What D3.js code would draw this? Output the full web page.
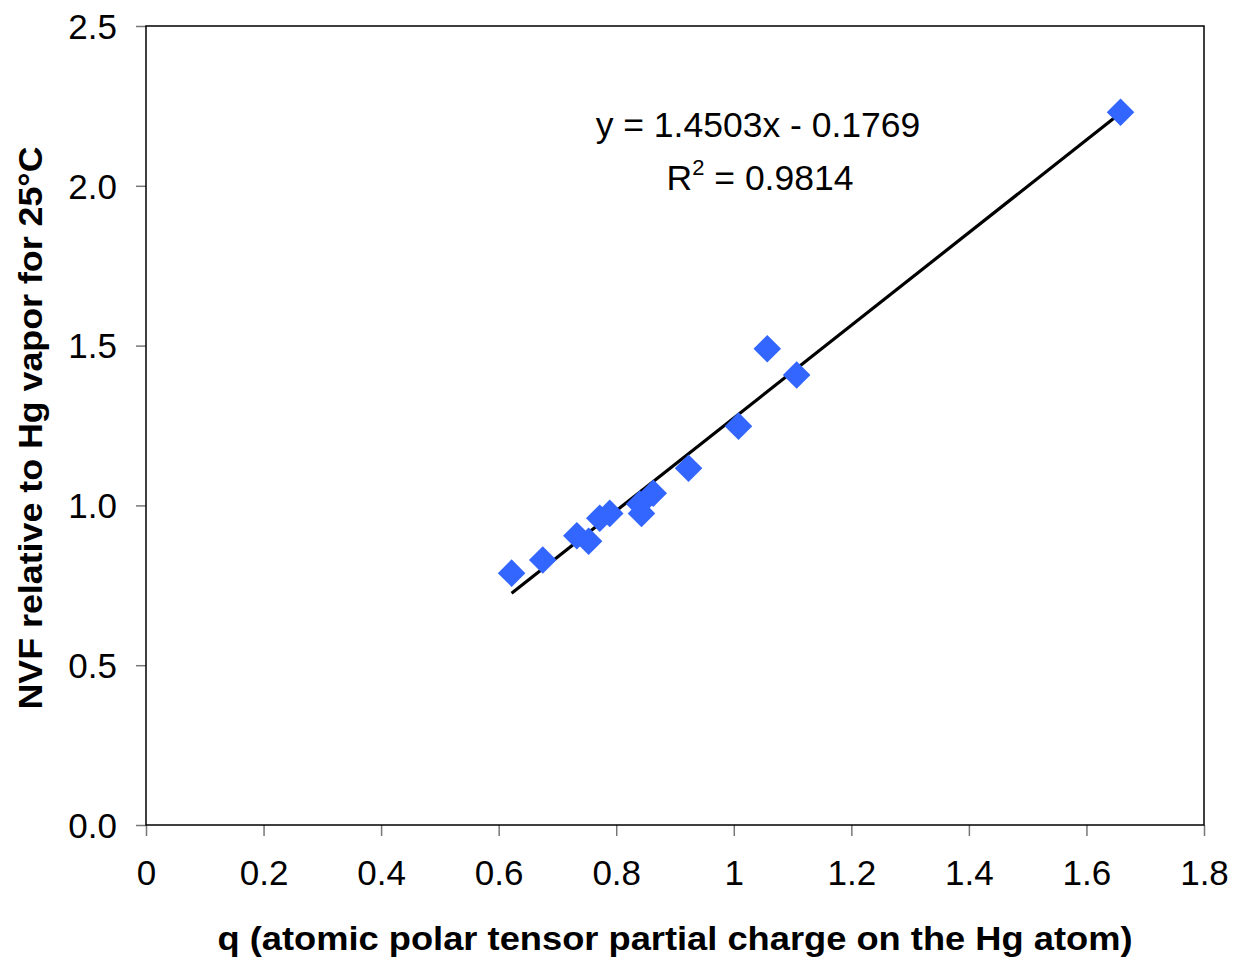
<!DOCTYPE html>
<html>
<head>
<meta charset="utf-8">
<script src="https://cdn.jsdelivr.net/npm/d3@7"></script>
<style>
  body { margin: 0; background: #fff; }
  text { font-family: "Liberation Sans", Arial, sans-serif; fill: #000; }
</style>
</head>
<body>
<div id="wrapper"></div>
<script>
// data
const qValues   = [0.622, 0.675, 0.733, 0.753, 0.772, 0.789, 0.840, 0.843, 0.863, 0.923, 1.008, 1.057, 1.107, 1.658]
const nvfValues = [0.788, 0.829, 0.905, 0.888, 0.960, 0.975, 1.004, 0.975, 1.038, 1.116, 1.248, 1.490, 1.408, 2.230]
const xTicks = [0, 0.2, 0.4, 0.6, 0.8, 1, 1.2, 1.4, 1.6, 1.8]
const xTickLabels = ['0', '0.2', '0.4', '0.6', '0.8', '1', '1.2', '1.4', '1.6', '1.8']
const yTicks = [0, 0.5, 1, 1.5, 2, 2.5]
const yTickLabels = ['0.0', '0.5', '1.0', '1.5', '2.0', '2.5']
const slope = 1.4503
const intercept = -0.1769
const eqLabel = 'y = 1.4503x - 0.1769'
const r2Label = '0.9814'

const dataset = qValues.map((q, i) => ({q, nvf: nvfValues[i]}))

const dimensions = {
  width: 1235,
  height: 960,
  margin: {top: 26, right: 31, bottom: 135, left: 146}
}
dimensions.boundedWidth = dimensions.width - dimensions.margin.left - dimensions.margin.right
dimensions.boundedHeight = dimensions.height - dimensions.margin.top - dimensions.margin.bottom

const svg = d3.select('#wrapper').append('svg')
  .attr('width', dimensions.width)
  .attr('height', dimensions.height)

const bounds = svg.append('g')
  .attr('transform', `translate(${dimensions.margin.left},${dimensions.margin.top})`)

const xScale = d3.scaleLinear().domain([0, 1.8]).range([0, dimensions.boundedWidth])
const yScale = d3.scaleLinear().domain([0, 2.5]).range([dimensions.boundedHeight, 0])

// axes
const xAxis = d3.axisBottom(xScale).tickValues(xTicks)
  .tickFormat((d, i) => xTickLabels[i]).tickSizeInner(11).tickSizeOuter(0).tickPadding(24)
const yAxis = d3.axisLeft(yScale).tickValues(yTicks)
  .tickFormat((d, i) => yTickLabels[i]).tickSizeInner(10).tickSizeOuter(0).tickPadding(19)

const xg = bounds.append('g')
  .attr('transform', `translate(0,${dimensions.boundedHeight})`)
  .call(xAxis)
const yg = bounds.append('g').call(yAxis)

;[xg, yg].forEach(g => {
  g.selectAll('.domain').remove()
  g.selectAll('.tick line').attr('stroke', '#777').attr('stroke-width', 1.5)
  g.selectAll('.tick text').style('font-size', '35px').attr('fill', '#000')
    .style('font-family', '"Liberation Sans", Arial, sans-serif')
})
yg.selectAll('.tick text').attr('dy', '0.35em')

// frame
bounds.append('rect')
  .attr('width', dimensions.boundedWidth)
  .attr('height', dimensions.boundedHeight)
  .attr('fill', 'none')
  .attr('stroke', '#000')
  .attr('stroke-width', 1.5)

// trend line
const [qMin, qMax] = d3.extent(qValues)
bounds.append('line')
  .attr('x1', xScale(qMin)).attr('y1', yScale(slope * qMin + intercept))
  .attr('x2', xScale(qMax)).attr('y2', yScale(slope * qMax + intercept))
  .attr('stroke', '#000')
  .attr('stroke-width', 3.2)

// points
const diamond = d3.symbol().type(d3.symbolSquare).size(380)
bounds.selectAll('.point')
  .data(dataset)
  .enter().append('path')
    .attr('class', 'point')
    .attr('d', diamond)
    .attr('transform', d => `translate(${xScale(d.q)},${yScale(d.nvf)}) rotate(45)`)
    .attr('fill', '#3366ff')

// regression label
const eqX = 758 - dimensions.margin.left
bounds.append('text')
  .attr('x', eqX).attr('y', 137 - dimensions.margin.top)
  .attr('text-anchor', 'middle')
  .style('font-size', '35.5px')
  .text(eqLabel)
const r2 = bounds.append('text')
  .attr('x', eqX + 2).attr('y', 190 - dimensions.margin.top)
  .attr('text-anchor', 'middle')
  .style('font-size', '35.5px')
r2.append('tspan').text('R')
r2.append('tspan').attr('dy', -15).style('font-size', '22px').text('2')
r2.append('tspan').attr('dy', 15).text(' = ' + r2Label)

// axis titles
svg.append('text')
  .attr('x', 675).attr('y', 950)
  .attr('text-anchor', 'middle')
  .attr('textLength', 915)
  .attr('lengthAdjust', 'spacingAndGlyphs')
  .style('font-size', '34px')
  .style('font-weight', 'bold')
  .text('q (atomic polar tensor partial charge on the Hg atom)')

svg.append('text')
  .attr('transform', 'translate(42,428) rotate(-90)')
  .attr('text-anchor', 'middle')
  .attr('textLength', 563)
  .attr('lengthAdjust', 'spacingAndGlyphs')
  .style('font-size', '34px')
  .style('font-weight', 'bold')
  .text('NVF relative to Hg vapor for 25°C')
</script>
</body>
</html>
